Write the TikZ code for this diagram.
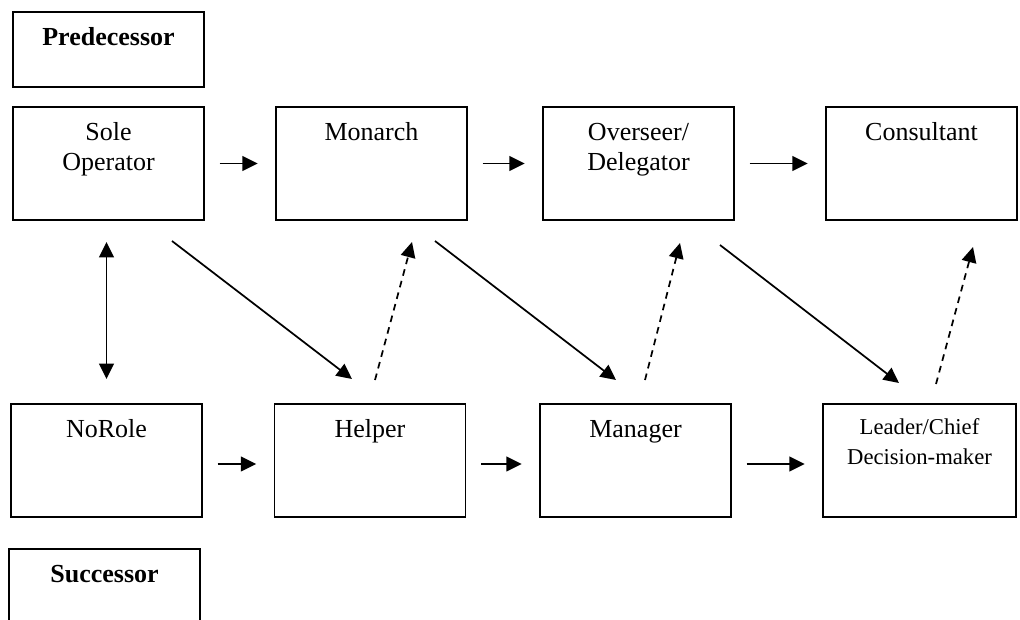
\documentclass[tikz,border=0pt]{standalone}
\usepackage{fontspec}
\setmainfont{Liberation Serif}
\usetikzlibrary{positioning}
\usetikzlibrary{arrows.meta}

\tikzset{
  rolebox/.style={draw, line width=1.4pt, minimum width=143.25pt, minimum height=84.75pt, inner sep=0pt},
  rolename/.style={anchor=base, align=center, inner sep=0pt, font=\fontsize{19.5}{22.5}\selectfont},
  flow/.style={line width=1.3pt, -{Triangle[length=11.5pt,width=11pt]}},
  maybe/.style={flow, dash pattern=on 5pt off 4pt}
}

\begin{document}
\begin{tikzpicture}[x=0.75pt, y=-0.75pt]

\clip (0,0) rectangle (1020,619);

%%%%%%%%%%%%    boxes   %%%%%%%%%%%%
\node[rolebox, minimum height=56.25pt] (pred) at (108.5,49.5) {};
\node[rolebox] (sole) at (108.5,163.5) {};
\node[rolebox] (monarch) at (371.5,163.5) {};
\node[rolebox] (overseer) at (638.5,163.5) {};
\node[rolebox] (consultant) at (921.5,163.5) {};

\node[rolebox] (norole) at (106.5,460.5) {};
\node[rolebox] (helper) at (370,460.5) {};
\node[rolebox] (manager) at (635.5,460.5) {};
\node[rolebox, minimum width=144.75pt] (leader) at (919.5,460.5) {};

\node[rolebox] (succ) at (104.5,605.5) {};

% labeling (two-line labels sit on their last line, so one more skip down)
{
\node[rolename, font=\fontsize{19.5}{22.5}\selectfont\bfseries] (predT) at ([yshift=-26pt]pred.north) {Predecessor};
\node[rolename] (soleT) at ([yshift=-48.5pt]sole.north) {Sole\\Operator};
\node[rolename] (monarchT) at ([yshift=-26pt]monarch.north) {Monarch};
\node[rolename] (overseerT) at ([yshift=-48.5pt]overseer.north) {Overseer/\\Delegator};
\node[rolename] (consultantT) at ([yshift=-26pt]consultant.north) {Consultant};

\node[rolename] (noroleT) at ([yshift=-26pt]norole.north) {NoRole};
\node[rolename] (helperT) at ([yshift=-26pt]helper.north) {Helper};
\node[rolename] (managerT) at ([yshift=-26pt]manager.north) {Manager};
\node[rolename, font=\fontsize{17}{22.5}\selectfont] (leaderT) at ([yshift=-46pt]leader.north) {Leader/Chief\\Decision-maker};

\node[rolename, font=\fontsize{19.5}{22.5}\selectfont\bfseries] (succT) at ([yshift=-25.5pt]succ.north) {Successor};
}

%%%%%%%%%%%%    arrows   %%%%%%%%%%%%
%top row
\draw[flow, shorten <=11pt, shorten >=13pt] (sole.east) -- (monarch.west);
\draw[flow, shorten <=11pt, shorten >=13pt] (monarch.east) -- (overseer.west);
\draw[flow, shorten <=11pt, shorten >=13pt] (overseer.east) -- (consultant.west);
%bottom row
\draw[flow, shorten <=11pt, shorten >=13pt] ([yshift=-2.6pt]norole.east) -- ([yshift=-2.6pt]helper.west);
\draw[flow, shorten <=11pt, shorten >=13pt] ([yshift=-2.6pt]helper.east) -- ([yshift=-2.6pt]manager.west);
\draw[flow, shorten <=11pt, shorten >=13pt] ([yshift=-2.6pt]manager.east) -- ([yshift=-2.6pt]leader.west);

%up and down
\coordinate (ud1) at (106.5,242);
\coordinate (ud2) at (106.5,379);
\draw[flow, {Triangle[length=11.5pt,width=11pt]}-{Triangle[length=11.5pt,width=11pt]}] (ud1) -- (ud2);

%diagonals
\coordinate (a1) at (172,241);
\coordinate (a2) at (352,379);
\coordinate (b1) at (435,241);
\coordinate (b2) at (616,380);
\coordinate (c1) at (720,245);
\coordinate (c2) at (899,383);
\draw[flow] (a1) -- (a2);
\draw[flow] (b1) -- (b2);
\draw[flow] (c1) -- (c2);

%dashed back up
\coordinate (p1) at (375,380);
\coordinate (p2) at (412,242);
\coordinate (q1) at (645,380);
\coordinate (q2) at (680,243);
\coordinate (r1) at (936,384);
\coordinate (r2) at (973,247);
\draw[maybe] (p1) -- (p2);
\draw[maybe] (q1) -- (q2);
\draw[maybe] (r1) -- (r2);

\end{tikzpicture}
\end{document}
